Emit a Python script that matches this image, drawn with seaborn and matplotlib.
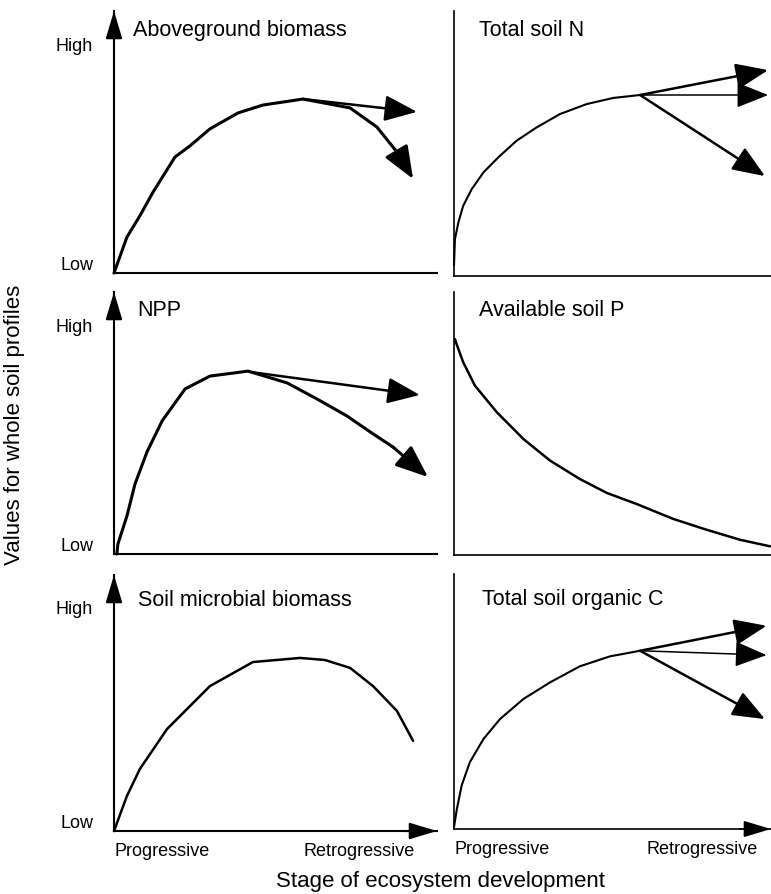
import matplotlib
matplotlib.use("Agg")
import matplotlib.pyplot as plt
import seaborn as sns
import pandas as pd

# === DATA (stage 0..1 along x, value 0..1 along y) ===
# Aboveground biomass
agb_x = [0.0, 0.04, 0.08, 0.121, 0.189, 0.235, 0.297, 0.384, 0.461, 0.585, 0.731, 0.814, 0.876, 0.926]
agb_y = [0.0, 0.137, 0.218, 0.309, 0.443, 0.485, 0.55, 0.611, 0.641, 0.664, 0.63, 0.557, 0.462, 0.359]
agb_branch_x = [0.585, 0.938]
agb_branch_y = [0.664, 0.615]

# NPP
npp_x = [0.009, 0.012, 0.04, 0.065, 0.102, 0.149, 0.22, 0.297, 0.415, 0.536, 0.628, 0.721, 0.793, 0.864, 0.972]
npp_y = [0.0, 0.038, 0.145, 0.267, 0.389, 0.508, 0.63, 0.679, 0.698, 0.653, 0.592, 0.527, 0.466, 0.408, 0.294]
npp_branch_x = [0.42, 0.947]
npp_branch_y = [0.695, 0.607]

# Soil microbial biomass
mic_x = [0.0, 0.04, 0.08, 0.164, 0.297, 0.43, 0.576, 0.653, 0.731, 0.802, 0.876, 0.926]
mic_y = [0.0, 0.137, 0.242, 0.398, 0.566, 0.66, 0.676, 0.668, 0.637, 0.566, 0.469, 0.352]

# Total soil N
n_x = [0.0, 0.003, 0.014, 0.029, 0.056, 0.093, 0.14, 0.198, 0.261, 0.334, 0.419, 0.503, 0.587]
n_y = [0.04, 0.14, 0.203, 0.265, 0.328, 0.391, 0.448, 0.511, 0.561, 0.611, 0.649, 0.672, 0.683]
n_tips_x = [0.991, 0.991, 0.981]
n_tips_y = [0.777, 0.683, 0.377]

# Available soil P
p_x = [0.003, 0.006, 0.029, 0.066, 0.135, 0.219, 0.303, 0.397, 0.482, 0.576, 0.692, 0.797, 0.902, 0.997]
p_y = [0.821, 0.809, 0.733, 0.644, 0.543, 0.441, 0.359, 0.289, 0.236, 0.194, 0.137, 0.096, 0.058, 0.033]

# Total soil organic C
c_x = [0.0, 0.009, 0.024, 0.05, 0.093, 0.145, 0.219, 0.303, 0.397, 0.492, 0.587]
c_y = [0.008, 0.078, 0.17, 0.262, 0.353, 0.431, 0.51, 0.575, 0.638, 0.677, 0.699]
c_tips_x = [0.986, 0.986, 0.981]
c_tips_y = [0.797, 0.682, 0.431]

titles = ["Aboveground biomass", "Total soil N", "NPP", "Available soil P",
          "Soil microbial biomass", "Total soil organic C"]
stage_labels = ["Progressive", "Retrogressive"]
level_labels = ["Low", "High"]

# === STYLE ===
sns.set_theme(style="white")
plt.rcParams["font.family"] = ["Liberation Sans", "DejaVu Sans"]
plt.rcParams["text.color"] = "black"

W, H = 771, 895
fig = plt.figure(figsize=(W / 100, H / 100), dpi=100)


def add_panel(x0, x1, ybot, ytop):
    return fig.add_axes([x0 / W, 1 - ybot / H, (x1 - x0) / W, (ybot - ytop) / H])


HEAD = "-|>,head_length=1.0,head_width=0.4"
AXHEAD = "-|>,head_length=1.0,head_width=0.3"


def arrow(ax, start, end, lw, coords="data", style=HEAD, scale=20):
    ax.annotate("", xy=end, xytext=start, xycoords=coords, textcoords=coords,
                arrowprops=dict(arrowstyle=style, color="black", lw=lw,
                                mutation_scale=scale, shrinkA=0, shrinkB=0),
                annotation_clip=False)


def curve(ax, xs, ys, lw, head=False):
    df = pd.DataFrame({"stage": xs, "value": ys})
    if head:
        df = df.iloc[:-1]
    sns.lineplot(data=df, x="stage", y="value", ax=ax, color="black", lw=lw,
                 sort=False, estimator=None, clip_on=False)
    if head:
        arrow(ax, (xs[-2], ys[-2]), (xs[-1], ys[-1]), lw)


def base(ax, left, title, tx, ty, lw):
    ax.set_xlim(0, 1)
    ax.set_ylim(0, 1)
    ax.set_facecolor("none")
    for side in ["top", "right"]:
        ax.spines[side].set_visible(False)
    for side in ["left", "bottom"]:
        ax.spines[side].set_color("black")
        ax.spines[side].set_linewidth(lw)
    ax.set_xlabel("")
    ax.set_ylabel("")
    ax.set_xticks([])
    ax.set_yticks([])
    ax.text(tx, ty, title, transform=ax.transAxes, fontsize=15.5, va="center",
            ha="left", color="black")
    if left:
        ax.set_yticks([0.04, 0.875], level_labels)
        ax.tick_params(axis="y", length=0, pad=15, labelsize=13, labelcolor="black")
        arrow(ax, (0, 0.9), (0, 1.0), lw, coords="axes fraction", style=AXHEAD, scale=17)


axes = [
    add_panel(114, 437, 274, 12),
    add_panel(454, 771, 277, 12),
    add_panel(114, 437, 555, 293),
    add_panel(454, 771, 556, 293),
    add_panel(114, 437, 832, 576),
    add_panel(454, 771, 830, 575),
]

# top row
ax = axes[0]
curve(ax, agb_x, agb_y, 2.2, head=True)
arrow(ax, (agb_branch_x[0], agb_branch_y[0]), (agb_branch_x[1], agb_branch_y[1]), 1.8)
base(ax, True, titles[0], 0.059, 0.931, 1.5)

ax = axes[1]
curve(ax, n_x, n_y, 1.5)
for i, (tx, ty) in enumerate(zip(n_tips_x, n_tips_y)):
    arrow(ax, (n_x[-1], n_y[-1]), (tx, ty), 1.1 if i == 1 else 1.8)
base(ax, False, titles[1], 0.079, 0.932, 1.2)

# middle row
ax = axes[2]
curve(ax, npp_x, npp_y, 2.2, head=True)
arrow(ax, (npp_branch_x[0], npp_branch_y[0]), (npp_branch_x[1], npp_branch_y[1]), 1.8)
base(ax, True, titles[2], 0.071, 0.935, 1.5)

ax = axes[3]
curve(ax, p_x, p_y, 1.8)
base(ax, False, titles[3], 0.079, 0.935, 1.2)

# bottom row
ax = axes[4]
curve(ax, mic_x, mic_y, 1.8)
base(ax, True, titles[4], 0.074, 0.906, 1.5)
ax.set_xticks([0.0, 0.932], stage_labels)
arrow(ax, (0.9, 0), (1.0, 0), 1.5, coords="axes fraction", style=AXHEAD, scale=17)

ax = axes[5]
curve(ax, c_x, c_y, 1.5)
for i, (tx, ty) in enumerate(zip(c_tips_x, c_tips_y)):
    arrow(ax, (c_x[-1], c_y[-1]), (tx, ty), 1.1 if i == 1 else 1.8)
base(ax, False, titles[5], 0.088, 0.902, 1.2)
ax.set_xticks([0.0, 0.959], stage_labels)
arrow(ax, (0.9, 0), (1.0, 0), 1.2, coords="axes fraction", style=AXHEAD, scale=17)

for ax in axes[4:]:
    ax.tick_params(axis="x", length=0, pad=8, labelsize=13, labelcolor="black")
    lbls = ax.get_xticklabels()
    lbls[0].set_ha("left")
    lbls[1].set_ha("right")

fig.text(15 / W, 1 - 425 / H, "Values for whole soil profiles", rotation=90,
         fontsize=16, ha="center", va="center", color="black")
fig.text(441 / W, 1 - 882 / H, "Stage of ecosystem development",
         fontsize=16, ha="center", va="center", color="black")

fig.savefig("out.png", dpi=100, facecolor="white")
